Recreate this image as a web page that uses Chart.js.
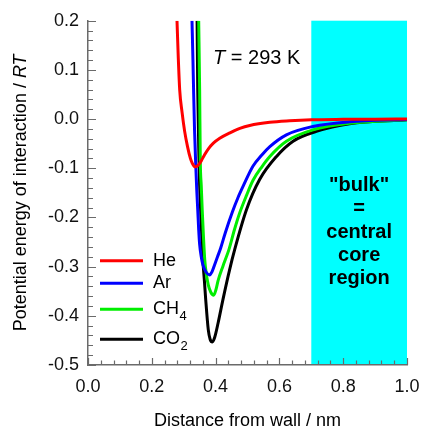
<!DOCTYPE html>
<html>
<head>
<meta charset="utf-8">
<script src="https://cdn.jsdelivr.net/npm/chart.js@4/dist/chart.umd.min.js"></script>
<style>
  html, body { margin: 0; padding: 0; background: #fff; }
  #wrap { width: 421px; height: 431px; }
</style>
</head>
<body>
<div id="wrap"><canvas id="c" width="421" height="431"></canvas></div>
<script>
// Reduced potential energy (U/RT) versus distance from the wall (nm)
const heX  = [0.279, 0.283, 0.2875, 0.295, 0.303, 0.312, 0.321, 0.327, 0.333, 0.338, 0.343, 0.349, 0.355, 0.365, 0.378, 0.393, 0.413, 0.445, 0.476, 0.507, 0.570, 0.632, 0.700, 0.800, 0.900, 1.000];
const heY  = [0.200, 0.125, 0.059, 0.013, -0.025, -0.056, -0.080, -0.090, -0.096, -0.097, -0.095, -0.091, -0.085, -0.073, -0.060, -0.049, -0.039, -0.028, -0.019, -0.013, -0.0065, -0.0035, -0.0015, -0.0006, -0.0002, 0.000];

const arX  = [0.326, 0.329, 0.331, 0.334, 0.338, 0.341, 0.344, 0.347, 0.350, 0.355, 0.360, 0.370, 0.381, 0.389, 0.397, 0.406, 0.416, 0.430, 0.452, 0.470, 0.486, 0.517, 0.545, 0.570, 0.622, 0.705, 0.820, 1.000];
const arY  = [0.200, 0.120, 0.059, -0.022, -0.097, -0.145, -0.184, -0.225, -0.255, -0.280, -0.296, -0.311, -0.317, -0.310, -0.296, -0.280, -0.262, -0.232, -0.190, -0.160, -0.137, -0.096, -0.073, -0.056, -0.032, -0.015, -0.0055, -0.001];

const ch4X = [0.347, 0.350, 0.352, 0.355, 0.358, 0.362, 0.366, 0.371, 0.377, 0.385, 0.394, 0.401, 0.408, 0.423, 0.442, 0.459, 0.476, 0.497, 0.517, 0.545, 0.570, 0.622, 0.705, 0.820, 1.000];
const ch4Y = [0.200, 0.059, -0.083, -0.135, -0.184, -0.240, -0.286, -0.315, -0.337, -0.352, -0.358, -0.347, -0.328, -0.299, -0.265, -0.225, -0.190, -0.155, -0.125, -0.097, -0.076, -0.045, -0.022, -0.0085, -0.0015];

const co2X = [0.342, 0.344, 0.348, 0.350, 0.353, 0.360, 0.365, 0.369, 0.377, 0.383, 0.390, 0.397, 0.408, 0.423, 0.444, 0.460, 0.497, 0.538, 0.591, 0.643, 0.716, 0.820, 1.000];
const co2Y = [0.200, 0.059, -0.083, -0.135, -0.184, -0.286, -0.330, -0.367, -0.428, -0.448, -0.453, -0.444, -0.414, -0.367, -0.306, -0.265, -0.184, -0.123, -0.076, -0.045, -0.025, -0.0095, -0.0015];

const seriesNames  = ['He', 'Ar', 'CH4', 'CO2'];
const seriesColors = ['#ff0000', '#0000ff', '#00ee00', '#000000'];

// "bulk" = central core region, as a band along the distance axis
const bulkRange = [0.7, 1.0];
const bulkLines = ['"bulk"', '=', 'central', 'core', 'region'];

const xTickLabels = ['0.0', '0.2', '0.4', '0.6', '0.8', '1.0'];
const yTickLabels = ['-0.5', '-0.4', '-0.3', '-0.2', '-0.1', '0.0', '0.1', '0.2'];

const FONT = '"Liberation Sans", Arial, Helvetica, sans-serif';
const AXIS_COLOR = '#6a6a6a';

function pts(xs, ys) { return xs.map((x, i) => ({ x: x, y: ys[i] })); }

const allX = [heX, arX, ch4X, co2X];
const allY = [heY, arY, ch4Y, co2Y];

const datasets = seriesNames.map((name, i) => ({
  label: name,
  data: pts(allX[i], allY[i]),
  borderColor: seriesColors[i],
  backgroundColor: seriesColors[i],
  borderWidth: 3,
  pointRadius: 0,
  fill: false,
  cubicInterpolationMode: 'monotone',
  borderCapStyle: 'butt',
  borderJoinStyle: 'round'
}));

// Cyan band behind everything
const bandPlugin = {
  id: 'band',
  beforeDraw(chart) {
    const { ctx, chartArea, scales } = chart;
    const x0 = scales.x.getPixelForValue(bulkRange[0]);
    const x1 = scales.x.getPixelForValue(bulkRange[1]);
    ctx.save();
    ctx.fillStyle = '#00ffff';
    ctx.fillRect(x0, chartArea.top, x1 - x0, chartArea.bottom - chartArea.top);
    ctx.restore();
  }
};

// Inward major/minor tick marks, band text, temperature note, legend and axis titles
const decorPlugin = {
  id: 'decor',
  afterDraw(chart) {
    const { ctx, chartArea, scales } = chart;
    const xs = scales.x, ys = scales.y;
    ctx.save();
    ctx.strokeStyle = AXIS_COLOR;
    ctx.lineWidth = 1.2;
    ctx.beginPath();
    for (let k = 0; k <= 25; k++) {
      const v = k * 0.04;
      const px = Math.round(xs.getPixelForValue(v)) + 0.5;
      const len = (k % 5 === 0) ? 7 : 4.5;
      ctx.moveTo(px, chartArea.bottom);
      ctx.lineTo(px, chartArea.bottom - len);
    }
    for (let k = 0; k <= 35; k++) {
      const v = -0.5 + k * 0.02;
      const py = Math.round(ys.getPixelForValue(v)) + 0.5;
      const len = (k % 5 === 0) ? 8 : 5;
      ctx.moveTo(chartArea.left, py);
      ctx.lineTo(chartArea.left + len, py);
    }
    ctx.stroke();

    // band caption
    const bx = (xs.getPixelForValue(bulkRange[0]) + xs.getPixelForValue(bulkRange[1])) / 2;
    ctx.fillStyle = '#000';
    ctx.font = 'bold 20px ' + FONT;
    ctx.textAlign = 'center';
    ctx.textBaseline = 'middle';
    const y0 = chartArea.top + 165;
    bulkLines.forEach((t, i) => ctx.fillText(t, bx, y0 + i * 23.2));

    // temperature note
    ctx.textAlign = 'left';
    let tx = xs.getPixelForValue(0.392);
    const ty = chartArea.top + 38;
    ctx.font = 'italic 20px ' + FONT;
    ctx.fillText('T', tx, ty);
    tx += ctx.measureText('T').width;
    ctx.font = '20px ' + FONT;
    ctx.fillText(' = 293 K', tx, ty);

    // legend
    const rowY = [240, 262.6, 288.6, 318.6];
    const lx0 = chartArea.left + 12, lx1 = chartArea.left + 55, txl = chartArea.left + 65;
    seriesNames.forEach((name, i) => {
      const y = chartArea.top + rowY[i];
      ctx.strokeStyle = seriesColors[i];
      ctx.lineWidth = 3;
      ctx.beginPath();
      ctx.moveTo(lx0, y);
      ctx.lineTo(lx1, y);
      ctx.stroke();
      ctx.fillStyle = '#000';
      ctx.textBaseline = 'middle';
      const m = name.match(/^([A-Za-z]+)(\d*)$/);
      ctx.font = '18px ' + FONT;
      ctx.fillText(m[1], txl, y);
      if (m[2]) {
        const w = ctx.measureText(m[1]).width;
        ctx.font = '13px ' + FONT;
        ctx.fillText(m[2], txl + w + 0.5, y + 7);
      }
    });

    // x-axis title
    ctx.fillStyle = '#000';
    ctx.font = '18px ' + FONT;
    ctx.textAlign = 'center';
    ctx.textBaseline = 'middle';
    ctx.fillText('Distance from wall / nm', (chartArea.left + chartArea.right) / 2, 421);

    // y-axis title, rotated, with italic RT
    const part1 = 'Potential energy of interaction / ';
    const part2 = 'RT';
    ctx.font = '18px ' + FONT;
    const w1 = ctx.measureText(part1).width;
    ctx.font = 'italic 18px ' + FONT;
    const w2 = ctx.measureText(part2).width;
    ctx.translate(21, (chartArea.top + chartArea.bottom) / 2);
    ctx.rotate(-Math.PI / 2);
    ctx.textAlign = 'left';
    const start = -(w1 + w2) / 2;
    ctx.font = '18px ' + FONT;
    ctx.fillText(part1, start, 0);
    ctx.font = 'italic 18px ' + FONT;
    ctx.fillText(part2, start + w1, 0);
    ctx.restore();
  }
};

const fmt = (v) => (Math.abs(v) < 1e-9 ? 0 : v).toFixed(1);

new Chart(document.getElementById('c'), {
  type: 'line',
  data: { datasets: datasets },
  options: {
    responsive: false,
    animation: false,
    devicePixelRatio: 1,
    layout: { padding: { left: 0, right: 14, top: 20.7, bottom: 0 } },
    plugins: { legend: { display: false }, tooltip: { enabled: false } },
    scales: {
      x: {
        type: 'linear', min: 0, max: 1,
        ticks: {
          stepSize: 0.2,
          callback: (v) => { const s = fmt(v); return xTickLabels.includes(s) ? s : ''; },
          font: { family: FONT, size: 18 }, color: '#111', padding: 11,
          maxRotation: 0, autoSkip: false
        },
        grid: { display: false, drawTicks: false },
        border: { display: true, color: AXIS_COLOR, width: 1.5 },
        afterFit: (s) => { s.height = 66; s.paddingLeft = 0; s.paddingRight = 0; }
      },
      y: {
        type: 'linear', min: -0.5, max: 0.2,
        ticks: {
          stepSize: 0.1,
          callback: (v) => { const s = fmt(v); return yTickLabels.includes(s) ? s : ''; },
          font: { family: FONT, size: 18 }, color: '#111', padding: 9,
          autoSkip: false
        },
        grid: { display: false, drawTicks: false },
        border: { display: true, color: AXIS_COLOR, width: 1.5 },
        afterFit: (s) => { s.width = 88; s.paddingTop = 0; s.paddingBottom = 0; }
      }
    }
  },
  plugins: [bandPlugin, decorPlugin]
});
</script>
</body>
</html>
